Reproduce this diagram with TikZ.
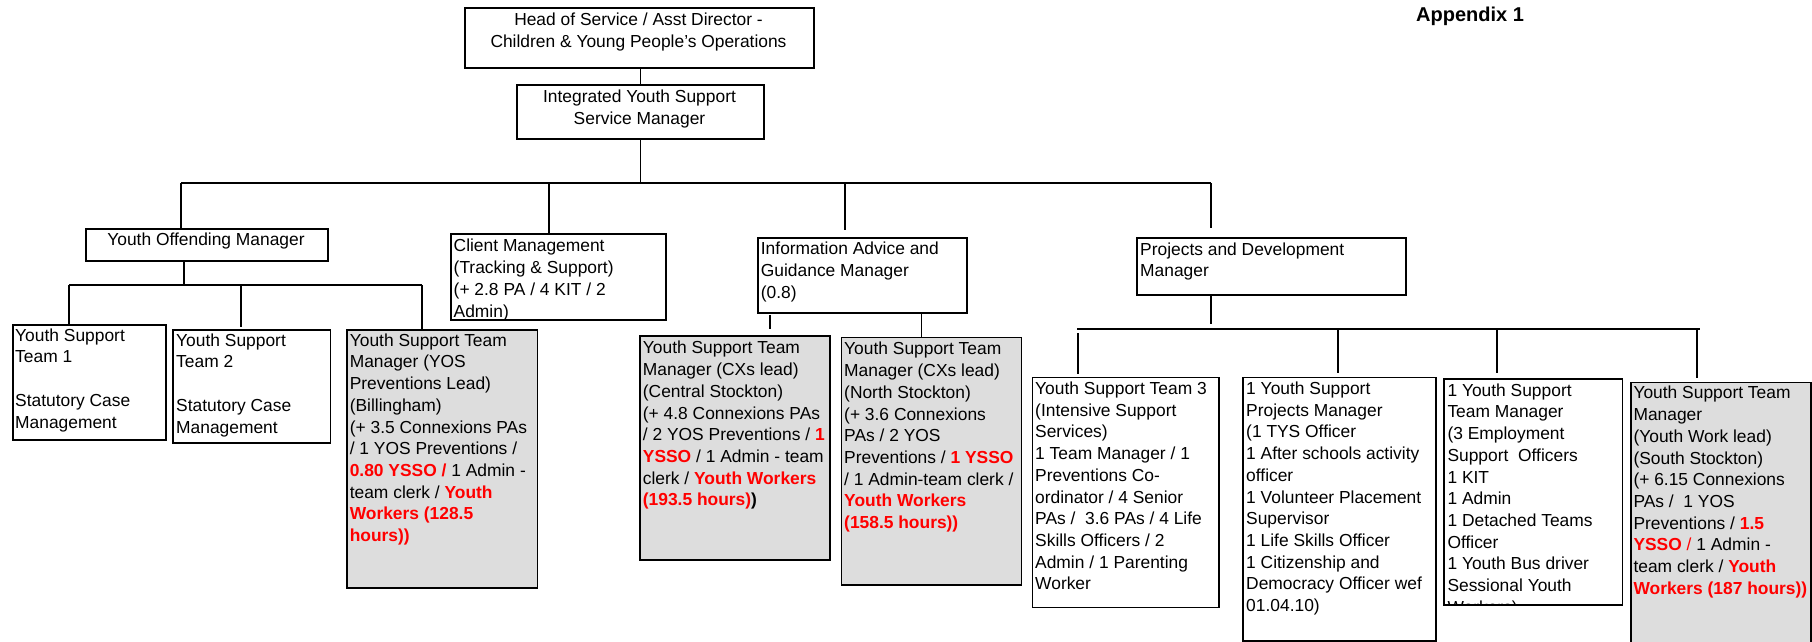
\documentclass[tikz,border=0pt]{standalone}
\usepackage{fontspec}
\setmainfont{Liberation Sans}
\usetikzlibrary{calc}
\definecolor{boxgray}{HTML}{DDDDDD}
\definecolor{rd}{HTML}{FF0000}
\newcommand\redb[1]{\textcolor{rd}{\bfseries #1}}
\newcommand\fsz{\fontsize{17.4}{21.7}\selectfont}
\newcommand\tstrut{\rule{0pt}{16pt}}
\tikzset{
  box/.style={draw=black, line width=1.5pt, fill=white, inner sep=0pt, anchor=north west},
  gbox/.style={box, fill=boxgray},
  conn/.style={draw=black, line width=1.4pt},
  txt/.style={anchor=north west, inner sep=0pt, align=left, font=\fsz},
  ctxt/.style={anchor=north, inner sep=0pt, align=center, font=\fsz},
}
\begin{document}
\begin{tikzpicture}[x=1pt,y=-1pt]
\useasboundingbox (0,0) rectangle (1812,641);
\clip (0,0) rectangle (1812,641);

% boxes
\node[box, minimum width=349pt, minimum height=60pt] (head) at (464,7) {};
\node[box, minimum width=247pt, minimum height=54pt] (iyss) at (516,84) {};
\node[box, minimum width=242pt, minimum height=32pt] (yom) at (85,228) {};
\node[box, minimum width=215pt, minimum height=86pt] (client) at (450,233) {};
\node[box, minimum width=209pt, minimum height=75pt] (iag) at (757,237) {};
\node[box, minimum width=269pt, minimum height=57pt] (pdm) at (1136,237) {};
\node[box, minimum width=153pt, minimum height=115pt] (yst1) at (12,324) {};
\node[box, minimum width=157.5pt, minimum height=113pt] (yst2) at (172,329) {};
\node[gbox, minimum width=190.5pt, minimum height=258pt] (bill) at (346,329) {};
\node[gbox, minimum width=190pt, minimum height=223.7pt] (cent) at (639,335.3) {};
\node[gbox, minimum width=180pt, minimum height=247.3pt] (north) at (840.7,336.7) {};
\node[box, minimum width=186.3pt, minimum height=230pt] (yst3) at (1031.7,376.7) {};
\node[box, minimum width=192.7pt, minimum height=263.3pt] (proj) at (1242.3,376.7) {};
\node[box, draw=none, minimum width=177pt, minimum height=224.3pt] (emp) at (1444,379) {};
\node[gbox, minimum width=180pt, minimum height=275pt] (ywork) at (1630,381.7) {};

% title
\node[anchor=base west, inner sep=0pt, font=\bfseries\fontsize{20}{24}\selectfont] (app) at (1416,21.5) {Appendix 1};

% texts
\node[ctxt] (headt) at (638.5,9.3) {\tstrut Head of Service / Asst Director -\\Children \& Young People's Operations};
\node[ctxt] (iysst) at (639.5,86.7) {\tstrut Integrated Youth Support\\Service Manager};
\node[ctxt] (yomt) at (206,229.3) {\tstrut Youth Offending Manager};
\node[txt] (clientt) at (453.5,235.7) {\tstrut Client Management\\(Tracking \& Support)\\(+ 2.8 PA / 4 KIT / 2\\Admin)};
\node[txt] (iagt) at (760.7,238.7) {\tstrut Information Advice and\\Guidance Manager\\(0.8)};
\node[txt] (pdmt) at (1140,239) {\tstrut Projects and Development\\Manager};
\node[txt] (yst1t) at (15,325) {\tstrut Youth Support\\Team 1\\[21.7pt]Statutory Case\\Management};
\node[txt] (yst2t) at (176,330) {\tstrut Youth Support\\Team 2\\[21.7pt]Statutory Case\\Management};
\node[txt] (billt) at (349.6,330) {\tstrut Youth Support Team\\Manager (YOS\\Preventions Lead)\\(Billingham)\\(+ 3.5 Connexions PAs\\/ 1 YOS Preventions /\\\redb{0.80 YSSO /} 1 Admin -\\team clerk / \redb{Youth}\\\redb{Workers (128.5}\\\redb{hours))}};
\node[txt] (centt) at (642.7,337.7) {\tstrut Youth Support Team\\Manager (CXs lead)\\(Central Stockton)\\(+ 4.8 Connexions PAs\\/ 2 YOS Preventions / \redb{1}\\\redb{YSSO} / 1 Admin - team\\clerk / \redb{Youth Workers}\\\redb{(193.5 hours)}\textbf{)}};
\node[txt] (northt) at (844,338.7) {\tstrut Youth Support Team\\Manager (CXs lead)\\(North Stockton)\\(+ 3.6 Connexions\\PAs / 2 YOS\\Preventions / \redb{1 YSSO}\\/ 1 Admin-team clerk /\\\redb{Youth Workers}\\\redb{(158.5 hours))}};
\node[txt] (yst3t) at (1035,378.3) {\tstrut Youth Support Team 3\\(Intensive Support\\Services)\\1 Team Manager / 1\\Preventions Co-\\ordinator / 4 Senior\\PAs /\ \ 3.6 PAs / 4 Life\\Skills Officers / 2\\Admin / 1 Parenting\\Worker};
\node[txt] (projt) at (1246,378.3) {\tstrut 1 Youth Support\\Projects Manager\\(1 TYS Officer\\1 After schools activity\\officer\\1 Volunteer Placement\\Supervisor\\1 Life Skills Officer\\1 Citizenship and\\Democracy Officer wef\\01.04.10)};
\begin{scope}
\clip (emp.north west) rectangle (emp.south east);
\node[txt] (empt) at (1447.3,380) {\tstrut 1 Youth Support\\Team Manager\\(3 Employment\\Support\ \ Officers\\1 KIT\\1 Admin\\1 Detached Teams\\Officer\\1 Youth Bus driver\\Sessional Youth\\Workers)};
\end{scope}
\draw[line width=1.5pt] (emp.north west) rectangle (emp.south east);
\node[txt] (yworkt) at (1633.3,382.7) {\tstrut Youth Support Team\\Manager\\(Youth Work lead)\\(South Stockton)\\(+ 6.15 Connexions\\PAs /\ \ 1 YOS\\Preventions / \redb{1.5}\\\redb{YSSO}\textcolor{rd}{\ /} 1 Admin -\\team clerk / \redb{Youth}\\\redb{Workers (187 hours))}};

% connectors: top level
\coordinate (busL) at (181,183);
\coordinate (busR) at (1211,183);
\coordinate (bC) at (549,183);
\coordinate (bI) at (845,183);
\draw[conn] (iyss.north |- head.south) -- (iyss.north);
\draw[conn] (iyss.south) -- (iyss.south |- busL);
\draw[conn] (busL) -- (busR);
\draw[conn] (busL) -- (busL |- yom.north);
\draw[conn] (bC) -- (bC |- client.north);
\draw[conn] (bI) -- ([yshift=7pt]bI |- iag.north);
\draw[conn] (busR) -- ([yshift=9pt]busR |- pdm.north);

% youth offending branch
\coordinate (yb) at (184,285);
\coordinate (ybL) at (69,285);
\coordinate (yb2) at (241,285);
\coordinate (ybR) at (422,285);
\draw[conn] (yb |- yom.south) -- (yb);
\draw[conn] (ybL) -- (ybR);
\draw[conn] (ybL) -- (ybL |- yst1.north);
\draw[conn] (yb2) -- ([yshift=2pt]yb2 |- yst2.north);
\draw[conn] (ybR) -- (ybR |- bill.north);

% IAG branch
\coordinate (ia1) at (770,0);
\coordinate (ia2) at (921.7,0);
\draw[conn] ([yshift=-1pt]ia1 |- iag.south) -- ([yshift=6.3pt]ia1 |- cent.north);
\draw[conn] (ia2 |- iag.south) -- (ia2 |- north.north);

% projects branch
\coordinate (pd) at (1211,0);
\coordinate (pbL) at (1077,329);
\coordinate (pbR) at (1700,329);
\coordinate (pd1) at (1078,329);
\coordinate (pd2) at (1338,329);
\coordinate (pd3) at (1497,329);
\coordinate (pd4) at (1697,329);
\draw[conn] (pd |- pdm.south) -- ([yshift=5pt]pd |- pbL);
\draw[conn] (pbL) -- (pbR);
\draw[conn] ([yshift=-4pt]pd1) -- ([yshift=2.7pt]pd1 |- yst3.north);
\draw[conn] (pd2) -- ([yshift=3.7pt]pd2 |- proj.north);
\draw[conn] (pd3) -- ([yshift=6pt]pd3 |- emp.north);
\draw[conn] (pd4) -- ([yshift=3.7pt]pd4 |- ywork.north);
\end{tikzpicture}
\end{document}
